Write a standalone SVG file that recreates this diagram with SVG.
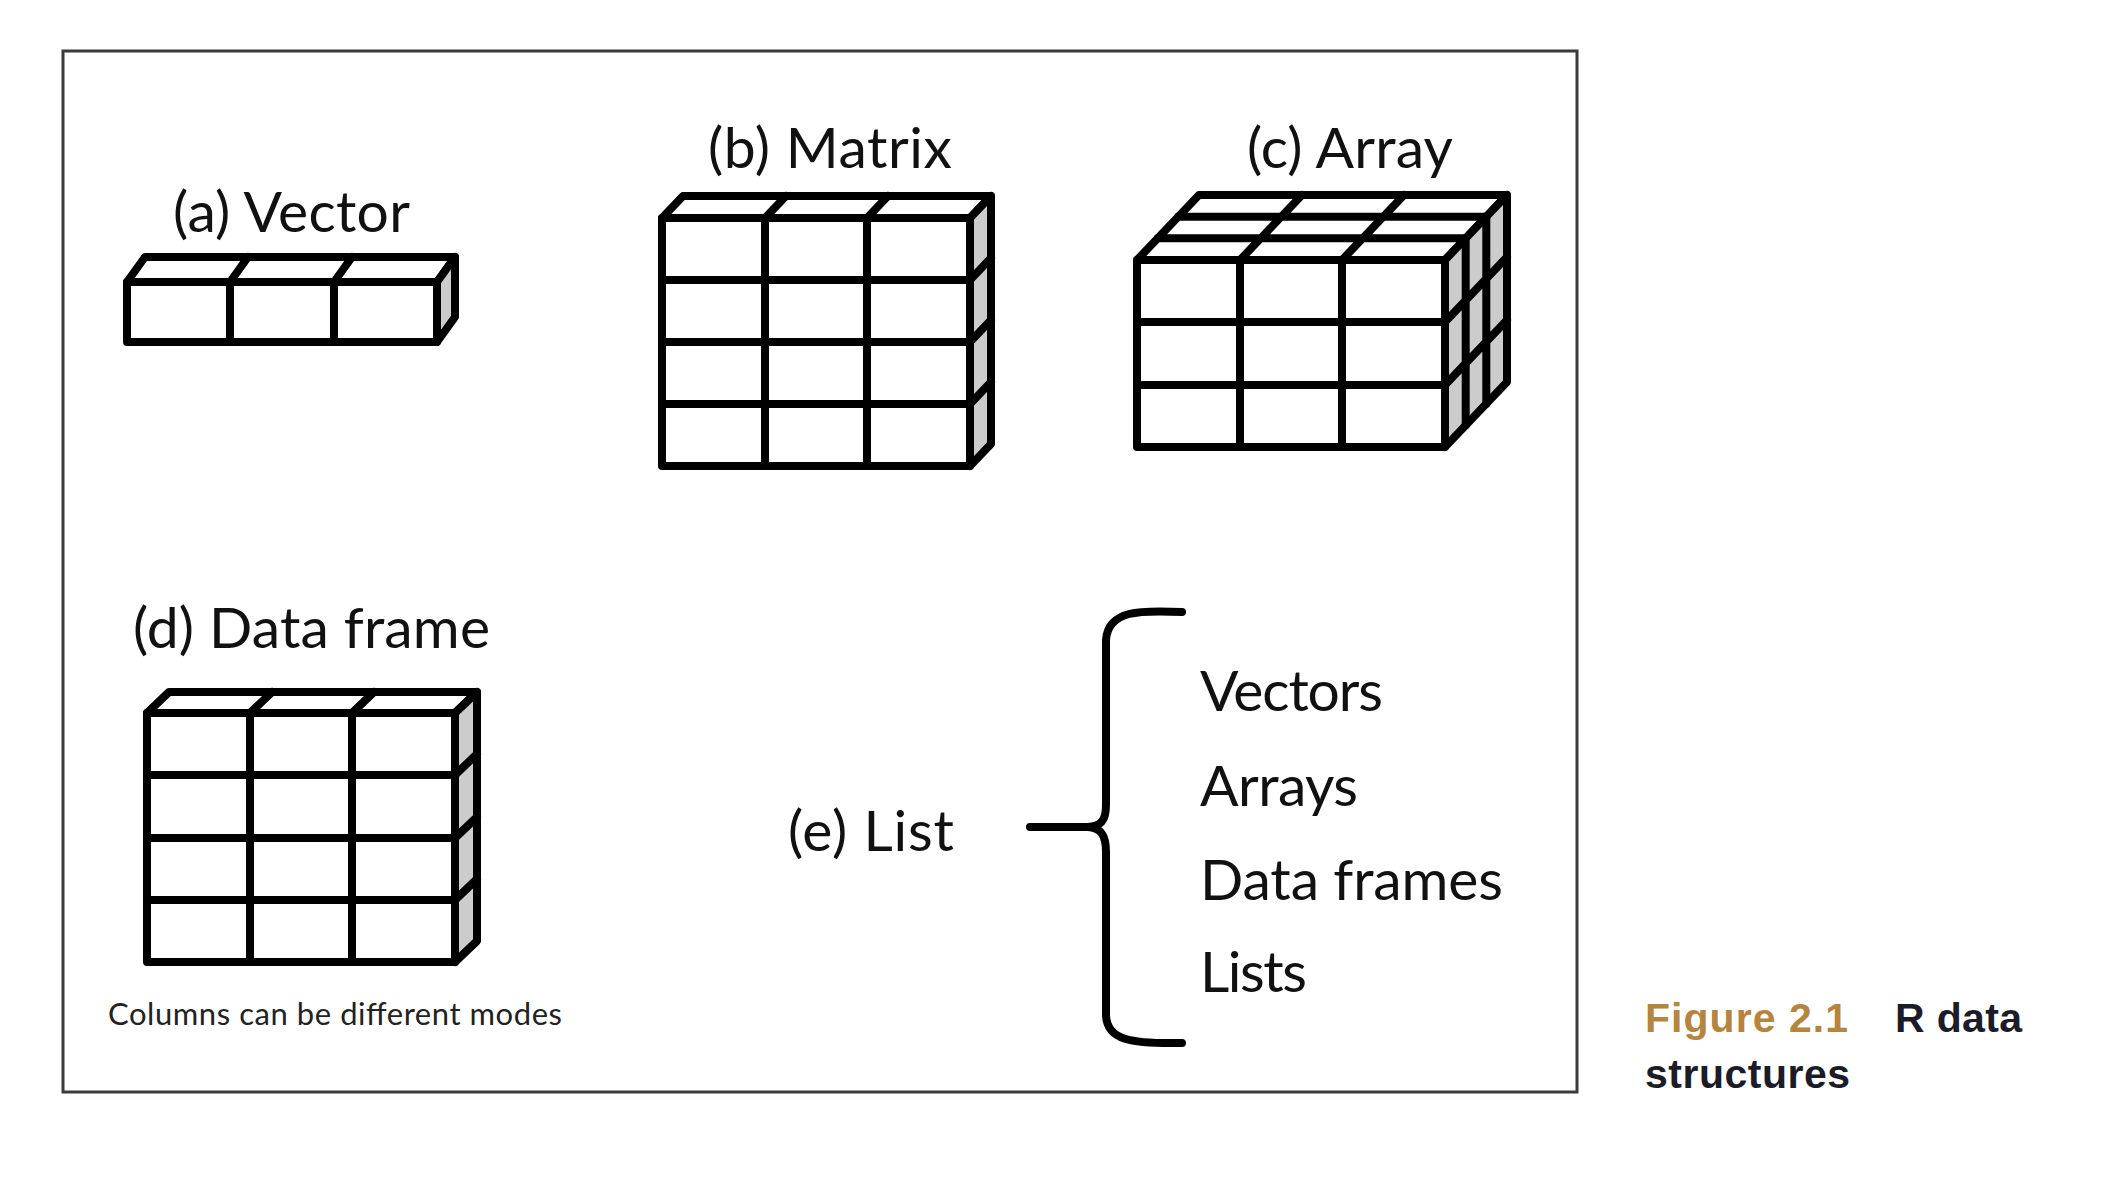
<svg xmlns="http://www.w3.org/2000/svg" width="2112" height="1204" viewBox="0 0 2112 1204">
<style>
.frame{fill:#fff;stroke:#3a3a3a;stroke-width:3}
.f{fill:#fff;stroke:#000;stroke-width:8;stroke-linejoin:round}
.s{fill:#cccccc;stroke:#000;stroke-width:8;stroke-linejoin:round}
.l{fill:none;stroke:#000;stroke-width:8;stroke-linecap:round}
.t{font-family:Lato,"Open Sans",sans-serif;font-size:57px;fill:#111}
.small{font-family:Lato,"Open Sans",sans-serif;font-size:31px;fill:#222}
.cap{font-family:"Liberation Sans",Arial,sans-serif;font-weight:bold;font-size:41px}
.brace{fill:none;stroke:#000;stroke-width:8;stroke-linecap:round;stroke-linejoin:round}
</style>
<rect x="0" y="0" width="2112" height="1204" fill="#fff"/>
<rect class="frame" x="63" y="51" width="1514" height="1041"/>

<g id="vector">
<text class="t" x="173" y="232" textLength="237">(a) Vector</text>
<polygon class="f" points="127,282 145,257 455,257 437,282"/>
<path class="l" d="M230,282 L248,257 M334,282 L352,257"/>
<polygon class="s" points="437,282 455,257 455,317 437,342"/>
<rect class="f" x="127" y="282" width="310" height="60"/>
<path class="l" d="M230,282 V342 M334,282 V342"/>
</g>

<g id="matrix">
<text class="t" x="708" y="168" textLength="244">(b) Matrix</text>
<polygon class="f" points="662,218 683,196 991,196 970,218"/>
<path class="l" d="M765,218 L786,196 M867,218 L888,196"/>
<polygon class="s" points="970,218 991,196 991,444 970,466"/>
<path class="l" d="M970,280 L991,258 M970,342 L991,320 M970,404 L991,382"/>
<rect class="f" x="662" y="218" width="308" height="248"/>
<path class="l" d="M765,218 V466 M867,218 V466 M662,280 H970 M662,342 H970 M662,404 H970"/>
</g>

<g id="array">
<text class="t" x="1247" y="168" textLength="206">(c) Array</text>
<polygon class="f" points="1137,260 1199,195 1507,195 1445,260"/>
<path class="l" d="M1240,260 L1302,195 M1342,260 L1404,195 M1157.7,238.3 H1465.7 M1178.3,216.7 H1486.3"/>
<polygon class="s" points="1445,260 1507,195 1507,382 1445,447"/>
<path class="l" d="M1445,322 L1507,257 M1445,385 L1507,320 M1465.7,238.3 V425.3 M1486.3,216.7 V403.7"/>
<rect class="f" x="1137" y="260" width="308" height="187"/>
<path class="l" d="M1240,260 V447 M1342,260 V447 M1137,322 H1445 M1137,385 H1445"/>
</g>

<g id="dataframe">
<text class="t" x="133" y="648" textLength="357">(d) Data frame</text>
<polygon class="f" points="147,713 169,692 477,692 455,713"/>
<path class="l" d="M250,713 L272,692 M352,713 L374,692"/>
<polygon class="s" points="455,713 477,692 477,941 455,962"/>
<path class="l" d="M455,775 L477,754 M455,838 L477,817 M455,900 L477,879"/>
<rect class="f" x="147" y="713" width="308" height="249"/>
<path class="l" d="M250,713 V962 M352,713 V962 M147,775 H455 M147,838 H455 M147,900 H455"/>
<text class="small" x="108" y="1025" textLength="454">Columns can be different modes</text>
</g>

<g id="list">
<text class="t" x="788" y="851" textLength="166">(e) List</text>
</g>

<g id="list-items">
<text class="t" x="1200" y="711" textLength="183">Vectors</text>
<text class="t" x="1200" y="806" textLength="158">Arrays</text>
<text class="t" x="1200" y="900" textLength="303">Data frames</text>
<text class="t" x="1200" y="992" textLength="107">Lists</text>
</g>

<g id="connectors">
<path class="brace" d="M1182,612 C1140,610 1108,610 1106,640 L1106,805 C1106,822 1100,826 1088,827 L1030,827"/>
<path class="brace" d="M1088,827 C1100,828 1106,834 1106,852 L1106,1015 C1107,1040 1130,1044 1182,1043"/>
</g>

<g id="caption">
<text class="cap" x="1645" y="1032" textLength="203" fill="#b5843f">Figure 2.1</text>
<text class="cap" x="1895" y="1032" textLength="127" fill="#1c1c28">R data</text>
<text class="cap" x="1645" y="1088" textLength="205" fill="#1c1c28">structures</text>
</g>
</svg>
